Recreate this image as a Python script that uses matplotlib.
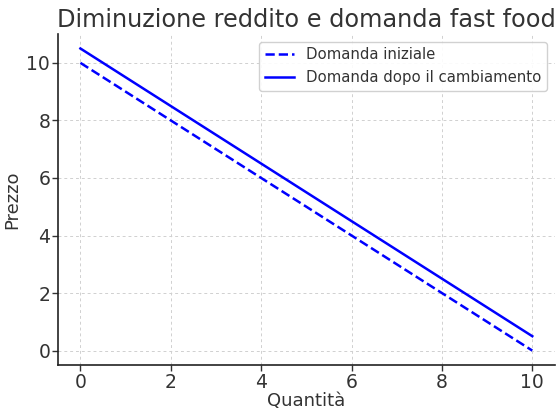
import numpy as np
import matplotlib.pyplot as plt

# dati
quantita = [0, 2, 4, 6, 8, 10]
prezzo_iniziale = [10, 8, 6, 4, 2, 0]
prezzo_dopo = [10.5, 8.5, 6.5, 4.5, 2.5, 0.5]

plt.rcParams['text.color'] = '#333333'
plt.rcParams['axes.labelcolor'] = '#333333'
plt.rcParams['xtick.color'] = '#333333'
plt.rcParams['ytick.color'] = '#333333'

fig, ax = plt.subplots(figsize=(5.56, 4.11), dpi=100)
fig.subplots_adjust(left=0.104, right=0.998, top=0.917, bottom=0.112)

ax.plot(quantita, prezzo_iniziale, '--', color='blue', lw=1.8, label='Domanda iniziale')
ax.plot(quantita, prezzo_dopo, '-', color='blue', lw=1.8, label='Domanda dopo il cambiamento')

ax.set_title('Diminuzione reddito e domanda fast food', fontsize=17.3, pad=5)
ax.set_xlabel('Quantità', fontsize=13, labelpad=0)
ax.set_ylabel('Prezzo', fontsize=13, labelpad=4)
ax.set_xticks([0, 2, 4, 6, 8, 10])
ax.set_yticks([0, 2, 4, 6, 8, 10])
ax.set_xlim(-0.5, 10.5)
ax.set_ylim(-0.5, 11.0)
ax.tick_params(labelsize=13.5, length=4, width=1, pad=1.5)
ax.grid(True, linestyle=(0, (3, 3)), color='#d0d0d0', lw=0.7)
for s in ['top', 'right']:
    ax.spines[s].set_visible(False)
for s in ['left', 'bottom']:
    ax.spines[s].set_linewidth(1.2)
    ax.spines[s].set_color('#222222')

ax.legend(loc='upper right', fontsize=10.7, framealpha=0.9, edgecolor='#cccccc',
          borderaxespad=0.5)

fig.savefig('out.png', dpi=100)
